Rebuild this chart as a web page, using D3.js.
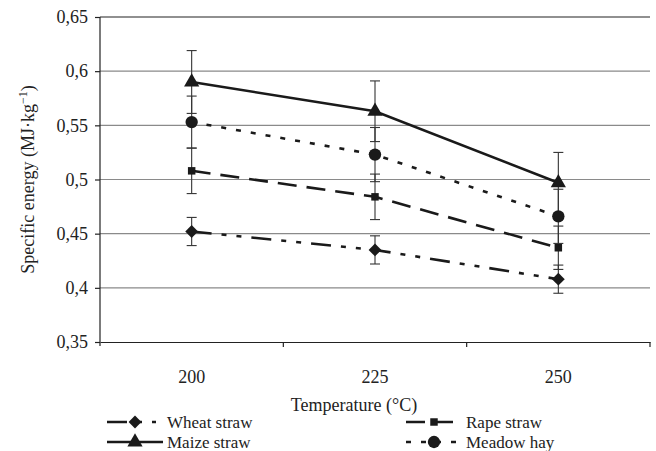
<!DOCTYPE html>
<html>
<head>
<meta charset="utf-8">
<script src="https://cdn.jsdelivr.net/npm/d3@7"></script>
<style>
  body { margin: 0; background: #fff; }
  svg { display: block; font-family: "Liberation Serif", "DejaVu Serif", serif; }
</style>
</head>
<body>
<svg id="chart"></svg>
<script>
var temperatures = ["200", "225", "250"];
var yTicks = [0.35, 0.4, 0.45, 0.5, 0.55, 0.6, 0.65];
var yTickLabels = ["0,35", "0,4", "0,45", "0,5", "0,55", "0,6", "0,65"];

var wheatStraw = [0.452, 0.435, 0.408];
var wheatErr = [0.013, 0.013, 0.013];
var rapeStraw = [0.508, 0.484, 0.437];
var rapeErr = [0.021, 0.021, 0.02];
var maizeStraw = [0.590, 0.563, 0.497];
var maizeErr = [0.029, 0.028, 0.028];
var meadowHay = [0.553, 0.523, 0.466];
var meadowErr = [0.024, 0.025, 0.025];

var series = [
  { name: "Wheat straw", values: wheatStraw, err: wheatErr, dash: "20,10,5,10,5,10", marker: "diamond" },
  { name: "Rape straw", values: rapeStraw, err: rapeErr, dash: "19,10", marker: "square" },
  { name: "Maize straw", values: maizeStraw, err: maizeErr, dash: null, marker: "triangle" },
  { name: "Meadow hay", values: meadowHay, err: meadowErr, dash: "5,10", marker: "circle" }
];

var width = 656, height = 451;
var margin = { top: 17, right: 6, bottom: 109, left: 100 };
var fontSize = 18;
var legendFont = 17;

var svg = d3.select("#chart")
  .attr("width", width)
  .attr("height", height);

var x = d3.scaleBand()
  .domain(temperatures)
  .range([margin.left, width - margin.right])
  .padding(0);

var y = d3.scaleLinear()
  .domain([0.35, 0.65])
  .range([height - margin.bottom, margin.top]);

// gridlines
svg.append("g")
  .selectAll("line")
  .data(yTicks.slice(1))
  .enter()
  .append("line")
  .attr("x1", margin.left)
  .attr("x2", width - margin.right)
  .attr("y1", function (d) { return y(d); })
  .attr("y2", function (d) { return y(d); })
  .attr("stroke", function (d) { return d === 0.65 ? "#222" : "#8a8a8a"; })
  .attr("stroke-width", 1.2);

// y axis
var yAxis = svg.append("g")
  .attr("transform", "translate(" + margin.left + ",0)")
  .call(d3.axisLeft(y)
    .tickValues(yTicks)
    .tickSize(5)
    .tickPadding(7)
    .tickFormat(function (d, i) { return yTickLabels[i]; }));
yAxis.select(".domain").attr("stroke", "#222").attr("stroke-width", 1.2)
  .attr("d", "M0," + y(0.65) + "V" + (y(0.35) + 4));
yAxis.selectAll(".tick line").attr("stroke", "#222").attr("stroke-width", 1.2);
yAxis.selectAll("text").attr("font-size", fontSize).attr("fill", "#222")
  .attr("font-family", "Liberation Serif");

// x axis
var xAxis = svg.append("g")
  .attr("transform", "translate(0," + y(0.35) + ")")
  .call(d3.axisBottom(x).tickSize(0).tickPadding(28));
xAxis.select(".domain").attr("stroke", "#222").attr("stroke-width", 1.2);
xAxis.selectAll("text").attr("font-size", fontSize).attr("fill", "#222")
  .attr("font-family", "Liberation Serif");
xAxis.selectAll(".bound")
  .data(temperatures)
  .enter()
  .append("line")
  .attr("x1", function (d) { return x(d) + x.bandwidth(); })
  .attr("x2", function (d) { return x(d) + x.bandwidth(); })
  .attr("y1", 0)
  .attr("y2", 5)
  .attr("stroke", "#222")
  .attr("stroke-width", 1.2);

// axis titles
svg.append("text")
  .attr("x", 354)
  .attr("y", 411)
  .attr("text-anchor", "middle")
  .attr("font-size", fontSize)
  .attr("fill", "#222")
  .text("Temperature (°C)");

var yTitle = svg.append("text")
  .attr("transform", "translate(34," + (margin.top + y(0.35)) / 2 + ") rotate(-90)")
  .attr("text-anchor", "middle")
  .attr("font-size", fontSize)
  .attr("fill", "#222");
yTitle.append("tspan").text("Specific energy (MJ·kg");
yTitle.append("tspan").attr("dy", -7).attr("font-size", 12).text("−1");
yTitle.append("tspan").attr("dy", 7).text(")");

function cx(i) { return x(temperatures[i]) + x.bandwidth() / 2; }

var symbols = {
  diamond: d3.symbol().type(d3.symbolSquare).size(82),
  square: d3.symbol().type(d3.symbolSquare).size(56),
  triangle: d3.symbol().type(d3.symbolTriangle).size(100),
  circle: d3.symbol().type(d3.symbolCircle).size(120)
};

function markerTransform(m, px, py) {
  return "translate(" + px + "," + py + ")" + (m === "diamond" ? " rotate(45)" : "");
}

// error bars
series.forEach(function (s) {
  var g = svg.append("g").attr("stroke", "#333").attr("stroke-width", 1.1);
  s.values.forEach(function (v, i) {
    var px = cx(i);
    g.append("line").attr("x1", px).attr("x2", px)
      .attr("y1", y(v + s.err[i])).attr("y2", y(v - s.err[i]));
    g.append("line").attr("x1", px - 5).attr("x2", px + 5)
      .attr("y1", y(v + s.err[i])).attr("y2", y(v + s.err[i]));
    g.append("line").attr("x1", px - 5).attr("x2", px + 5)
      .attr("y1", y(v - s.err[i])).attr("y2", y(v - s.err[i]));
  });
});

var line = d3.line()
  .x(function (d, i) { return cx(i); })
  .y(function (d) { return y(d); });

series.forEach(function (s) {
  svg.append("path")
    .datum(s.values)
    .attr("d", line)
    .attr("fill", "none")
    .attr("stroke", "#1a1a1a")
    .attr("stroke-width", 2.6)
    .attr("stroke-dasharray", s.dash);

  svg.selectAll(".m-" + s.marker)
    .data(s.values)
    .enter()
    .append("path")
    .attr("d", symbols[s.marker])
    .attr("transform", function (d, i) { return markerTransform(s.marker, cx(i), y(d)); })
    .attr("fill", "#1a1a1a");
});

// legend
var legendPos = [
  { x: 107, y: 422 },
  { x: 406, y: 422 },
  { x: 107, y: 442 },
  { x: 406, y: 442 }
];
var legendLen = [49, 47, 56, 50];

series.forEach(function (s, i) {
  var p = legendPos[i];
  var g = svg.append("g");
  g.append("line")
    .attr("x1", p.x).attr("x2", p.x + legendLen[i])
    .attr("y1", p.y).attr("y2", p.y)
    .attr("stroke", "#1a1a1a")
    .attr("stroke-width", 2.6)
    .attr("stroke-dasharray", s.dash);
  g.append("path")
    .attr("d", symbols[s.marker])
    .attr("transform", markerTransform(s.marker, p.x + 28, p.y))
    .attr("fill", "#1a1a1a");
  g.append("text")
    .attr("x", p.x + 60)
    .attr("y", p.y + 5.5)
    .attr("font-size", legendFont)
    .attr("fill", "#222")
    .text(s.name);
});
</script>
</body>
</html>
